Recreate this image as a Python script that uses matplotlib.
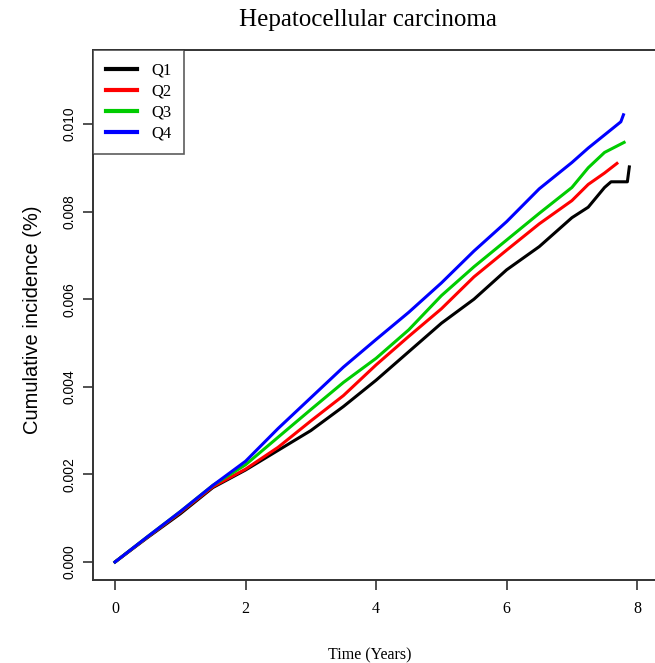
import matplotlib
matplotlib.use("Agg")
import matplotlib.pyplot as plt

title = "Hepatocellular carcinoma"
xlabel = "Time (Years)"
ylabel = "Cumulative incidence (%)"
labels = ["Q1", "Q2", "Q3", "Q4"]
colors = ["#000000", "#FF0000", "#00CC00", "#0000FF"]

x_ticks = [0, 2, 4, 6, 8]
y_ticks = [0.000, 0.002, 0.004, 0.006, 0.008, 0.010]
y_tick_labels = ["0.000", "0.002", "0.004", "0.006", "0.008", "0.010"]

q1_t = [0, 0.5, 1.0, 1.5, 2.0, 2.5, 3.0, 3.5, 4.0, 4.5, 5.0, 5.5, 6.0, 6.5, 7.0, 7.25, 7.5, 7.6, 7.85, 7.88]
q1_v = [0, 0.00056, 0.00110, 0.00170, 0.00210, 0.00255, 0.00300, 0.00355, 0.00415, 0.00480,
        0.00545, 0.00600, 0.00667, 0.00720, 0.00786, 0.00810, 0.00855, 0.00868, 0.00868, 0.00902]

q2_t = [0, 0.5, 1.0, 1.5, 2.0, 2.5, 3.0, 3.5, 4.0, 4.5, 5.0, 5.5, 6.0, 6.5, 7.0, 7.25, 7.5, 7.69]
q2_v = [0, 0.00057, 0.00113, 0.00172, 0.00212, 0.00262, 0.00322, 0.00380, 0.00450, 0.00515,
        0.00578, 0.00651, 0.00712, 0.00772, 0.00825, 0.00862, 0.00888, 0.00910]

q3_t = [0, 0.5, 1.0, 1.5, 2.0, 2.5, 3.0, 3.5, 4.0, 4.5, 5.0, 5.5, 6.0, 6.5, 7.0, 7.25, 7.5, 7.8]
q3_v = [0, 0.00058, 0.00115, 0.00175, 0.00222, 0.00285, 0.00348, 0.00410, 0.00465, 0.00530,
        0.00608, 0.00674, 0.00735, 0.00796, 0.00855, 0.00900, 0.00935, 0.00958]

q4_t = [0, 0.5, 1.0, 1.5, 2.0, 2.5, 3.0, 3.5, 4.0, 4.5, 5.0, 5.5, 6.0, 6.5, 7.0, 7.25, 7.5, 7.75, 7.79]
q4_v = [0, 0.00058, 0.00115, 0.00175, 0.00230, 0.00305, 0.00375, 0.00445, 0.00508, 0.00570,
        0.00637, 0.00710, 0.00777, 0.00852, 0.00912, 0.00945, 0.00975, 0.01005, 0.01021]

series_t = [q1_t, q2_t, q3_t, q4_t]
series_v = [q1_v, q2_v, q3_v, q4_v]

W, H = 655, 663
fig = plt.figure(figsize=(W / 100, H / 100), dpi=100)
left_px, right_px, top_px, bottom_px = 93, 660, 50, 580
ax = fig.add_axes([left_px / W, 1 - bottom_px / H, (right_px - left_px) / W, (bottom_px - top_px) / H])

for t, v, c, lab in zip(series_t, series_v, colors, labels):
    ax.plot(t, v, color=c, lw=2.2, label=lab, solid_joinstyle="round")

ax.set_xlim(-0.337, 8.35)
ax.set_ylim(-0.000411, 0.011689)

serif = ["Liberation Serif", "DejaVu Serif"]
sans = ["Liberation Sans", "DejaVu Sans"]

ax.set_xticks(x_ticks)
ax.set_xticklabels([str(x) for x in x_ticks], family=serif, fontsize=11.5)
ax.set_yticks(y_ticks)
ax.set_yticklabels(y_tick_labels, family=sans, fontsize=10, rotation=90, va="center")
ax.tick_params(direction="out", length=7, width=1.2, color="#333333")
ax.tick_params(axis="x", pad=8)
ax.tick_params(axis="y", pad=5)

for s in ax.spines.values():
    s.set_linewidth(1.4)
    s.set_color("#333333")

fig.text(368 / W, 1 - 20 / H, title, family=serif, fontsize=18, ha="center", va="center")
fig.text(370 / W, 1 - 655 / H, xlabel, family=serif, fontsize=11.5, ha="center", va="center")
fig.text(33 / W, 1 - 320 / H, ylabel, family=sans, fontsize=14.5, rotation=90, ha="center", va="center")

leg = ax.legend(loc="upper left", bbox_to_anchor=(0, 1), borderaxespad=0, fancybox=False,
                prop={"family": serif, "size": 12}, handlelength=1.9, handletextpad=0.85,
                labelspacing=0.3, borderpad=0.75)
leg.get_frame().set_edgecolor("#333333")
leg.get_frame().set_linewidth(1.2)
for line in leg.get_lines():
    line.set_linewidth(3)

fig.savefig("out.png", dpi=100)
